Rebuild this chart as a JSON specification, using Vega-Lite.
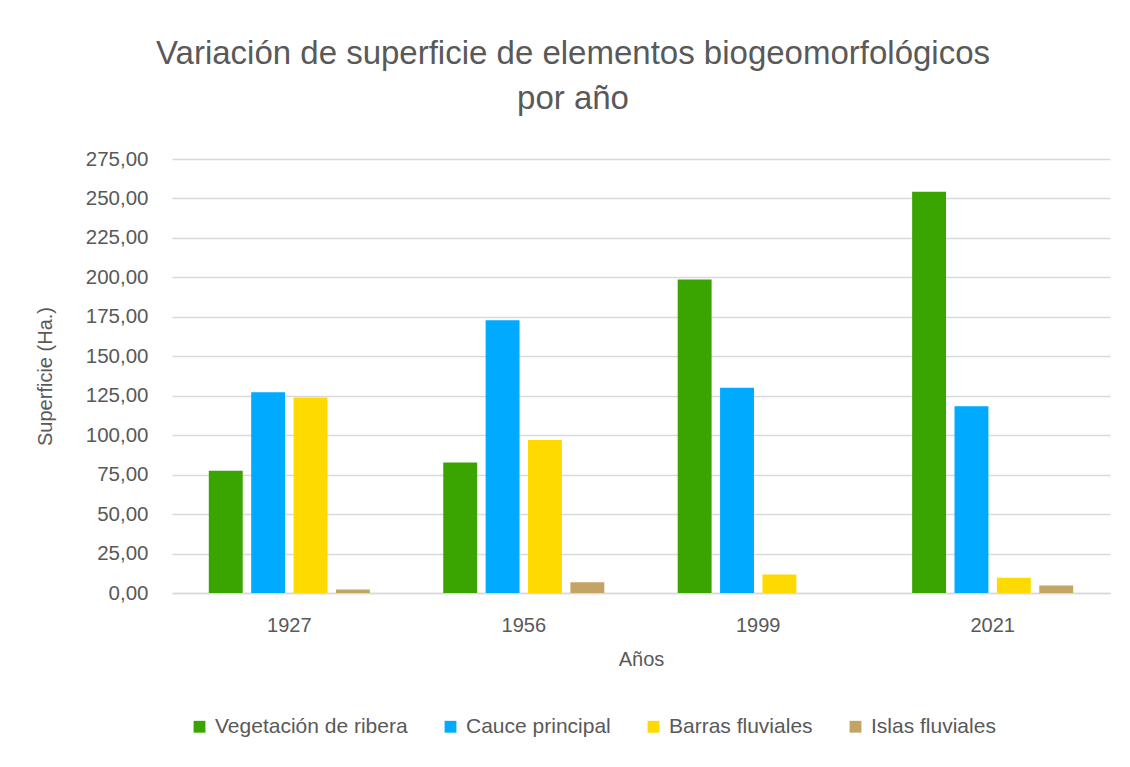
{
  "$schema": "https://vega.github.io/schema/vega-lite/v6.json",
  "autosize": "none",
  "width": 938,
  "height": 434,
  "padding": {"left": 172, "top": 159, "right": 20, "bottom": 174},
  "background": "white",
  "title": {
    "text": ["Variación de superficie de elementos biogeomorfológicos", "por año"],
    "anchor": "middle",
    "frame": "group",
    "dx": -68,
    "offset": 33,
    "fontSize": 33,
    "font": "Liberation Sans",
    "fontWeight": "normal",
    "color": "#595959",
    "lineHeight": 45
  },
  "data": {
    "values": [
      {"Año": "1927", "Elemento": "Vegetación de ribera", "Superficie": 77.4},
      {"Año": "1927", "Elemento": "Cauce principal", "Superficie": 127.2},
      {"Año": "1927", "Elemento": "Barras fluviales", "Superficie": 123.8},
      {"Año": "1927", "Elemento": "Islas fluviales", "Superficie": 2.2},
      {"Año": "1956", "Elemento": "Vegetación de ribera", "Superficie": 82.7},
      {"Año": "1956", "Elemento": "Cauce principal", "Superficie": 172.9},
      {"Año": "1956", "Elemento": "Barras fluviales", "Superficie": 97.0},
      {"Año": "1956", "Elemento": "Islas fluviales", "Superficie": 6.8},
      {"Año": "1999", "Elemento": "Vegetación de ribera", "Superficie": 198.7},
      {"Año": "1999", "Elemento": "Cauce principal", "Superficie": 130.0},
      {"Año": "1999", "Elemento": "Barras fluviales", "Superficie": 11.7},
      {"Año": "1999", "Elemento": "Islas fluviales", "Superficie": 0},
      {"Año": "2021", "Elemento": "Vegetación de ribera", "Superficie": 254.3},
      {"Año": "2021", "Elemento": "Cauce principal", "Superficie": 118.3},
      {"Año": "2021", "Elemento": "Barras fluviales", "Superficie": 9.7},
      {"Año": "2021", "Elemento": "Islas fluviales", "Superficie": 4.8}
    ]
  },
  "mark": {"type": "bar"},
  "encoding": {
    "x": {
      "field": "Año", "type": "nominal",
      "scale": {"paddingInner": 0.313, "paddingOuter": 0.157},
      "axis": {
        "title": "Años", "labelAngle": 0, "ticks": false, "domain": true,
        "domainColor": "#D9D9D9", "domainWidth": 1.5,
        "labelFontSize": 20, "labelColor": "#595959", "labelFont": "Liberation Sans",
        "labelPadding": 22, "titleFontSize": 20, "titleFontWeight": "normal",
        "titleColor": "#595959", "titleFont": "Liberation Sans", "titlePadding": 14
      }
    },
    "xOffset": {
      "field": "Elemento", "type": "nominal",
      "sort": ["Vegetación de ribera", "Cauce principal", "Barras fluviales", "Islas fluviales"],
      "scale": {"paddingInner": 0.2, "paddingOuter": 0}
    },
    "y": {
      "field": "Superficie", "type": "quantitative",
      "scale": {"domain": [0, 275], "nice": false},
      "axis": {
        "title": "Superficie (Ha.)",
        "values": [0, 25, 50, 75, 100, 125, 150, 175, 200, 225, 250, 275],
        "labelExpr": "replace(format(datum.value, '.2f'), '.', ',')",
        "ticks": false, "domain": false,
        "grid": true, "gridColor": "#D9D9D9", "gridWidth": 1.5,
        "labelFontSize": 20.5, "labelColor": "#595959", "labelFont": "Liberation Sans",
        "labelPadding": 24, "titleFontSize": 20, "titleFontWeight": "normal",
        "titleColor": "#595959", "titleFont": "Liberation Sans", "titlePadding": 30
      }
    },
    "color": {
      "field": "Elemento", "type": "nominal",
      "sort": ["Vegetación de ribera", "Cauce principal", "Barras fluviales", "Islas fluviales"],
      "scale": {
        "domain": ["Vegetación de ribera", "Cauce principal", "Barras fluviales", "Islas fluviales"],
        "range": ["#3AA500", "#00AAFF", "#FFDA00", "#C4A464"]
      },
      "legend": {
        "title": null,
        "orient": "none",
        "direction": "horizontal",
        "legendX": 17,
        "legendY": 557,
        "symbolType": "square",
        "symbolSize": 140,
        "symbolStrokeWidth": 0,
        "labelFontSize": 21,
        "labelFont": "Liberation Sans",
        "labelColor": "#595959",
        "labelOffset": 5,
        "columnPadding": 32,
        "labelLimit": 300
      }
    }
  },
  "config": {"view": {"stroke": null}}
}
